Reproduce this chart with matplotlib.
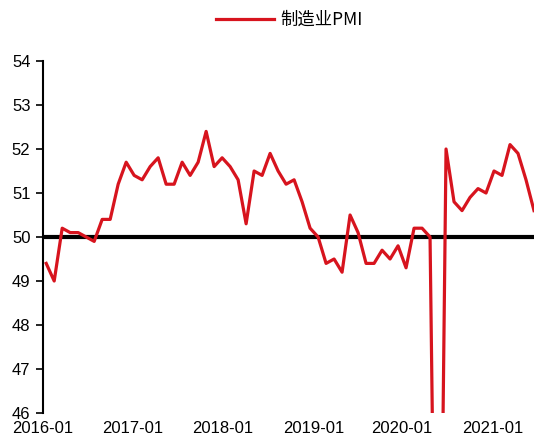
import matplotlib
matplotlib.use("Agg")
import matplotlib.pyplot as plt
import numpy as np

plt.rcParams['font.family'] = ['Liberation Sans', 'Noto Sans CJK SC', 'DejaVu Sans']

months = [f"{y}-{m:02d}" for y in range(2016, 2022) for m in range(1, 13)][:62]
pmi = [49.4, 49.0, 50.2, 50.1, 50.1, 50.0, 49.9, 50.4, 50.4, 51.2, 51.7, 51.4,
       51.3, 51.6, 51.8, 51.2, 51.2, 51.7, 51.4, 51.7, 52.4, 51.6, 51.8, 51.6,
       51.3, 50.3, 51.5, 51.4, 51.9, 51.5, 51.2, 51.3, 50.8, 50.2, 50.0, 49.4,
       49.5, 49.2, 50.5, 50.1, 49.4, 49.4, 49.7, 49.5, 49.8, 49.3, 50.2, 50.2,
       50.0, 35.7, 52.0, 50.8, 50.6, 50.9, 51.1, 51.0, 51.5, 51.4, 52.1, 51.9,
       51.3, 50.6]
threshold = 50
tick_labels = ["2016-01", "2017-01", "2018-01", "2019-01", "2020-01", "2021-01"]
tick_pos = [-0.4, 10.8, 22.1, 33.4, 44.5, 55.8]
y_ticks = [46, 47, 48, 49, 50, 51, 52, 53, 54]

fig = plt.figure(figsize=(5.57, 4.47), dpi=100)
ax = fig.add_axes([43/557, 34/447, (534-43)/557, (413-61)/447])
x = np.arange(len(pmi))
ax.plot(x, pmi, color='#D7141E', lw=2.3, label='制造业PMI', zorder=3)
ax.plot([x[0], x[-1]], [threshold, threshold], color='black', lw=3, zorder=2)

ax.set_xlim(0, len(pmi) - 1)
ax.set_ylim(46, 54)
ax.set_yticks(y_ticks)
ax.set_yticklabels([str(v) for v in y_ticks], fontsize=12)
ax.set_xticks(tick_pos)
ax.set_xticklabels(tick_labels, fontsize=12)
ax.tick_params(axis='x', length=0, pad=6)
ax.tick_params(axis='y', length=5, width=1.2, pad=4, direction='out')
for s in ['top', 'right', 'bottom']:
    ax.spines[s].set_visible(False)
ax.spines['left'].set_linewidth(1.5)
for lab in ax.get_xticklabels():
    lab.set_clip_on(False)

fig.legend(loc='upper center', bbox_to_anchor=(0.52, 1.01), frameon=False,
           handlelength=3.3, handletextpad=0.4,
           prop={'family': ['Noto Sans CJK SC', 'DejaVu Sans'], 'size': 12.5})

fig.savefig("out.png", dpi=100)
